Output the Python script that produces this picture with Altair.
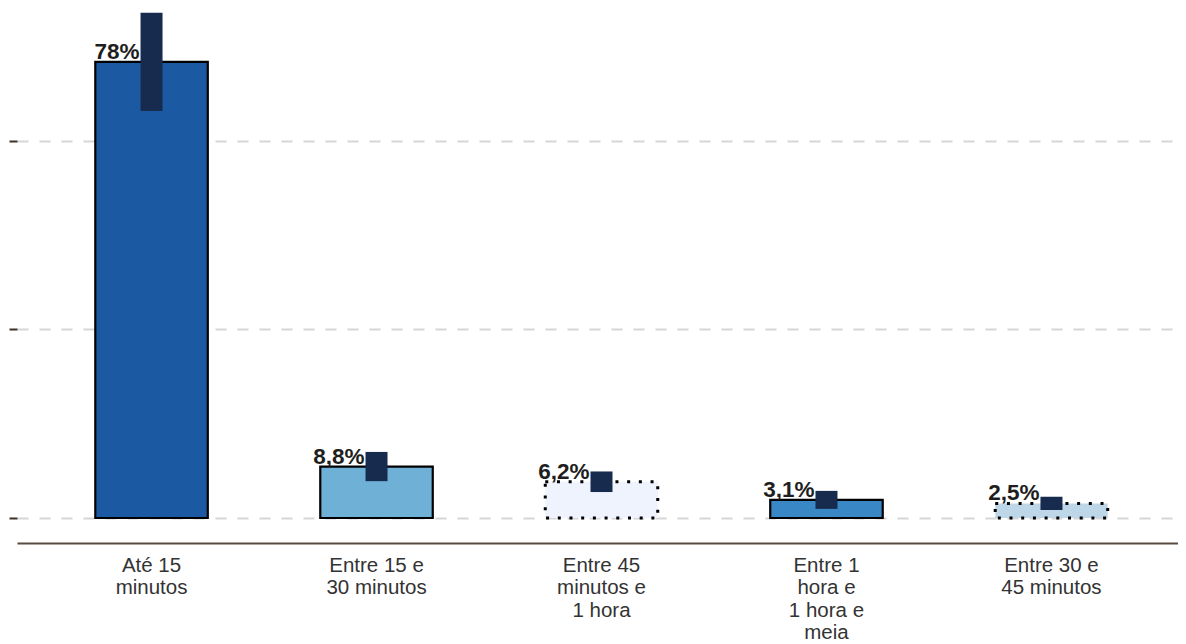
import altair as alt
import pandas as pd

categories = ["Até 15|minutos", "Entre 15 e|30 minutos", "Entre 45|minutos e|1 hora",
              "Entre 1|hora e|1 hora e|meia", "Entre 30 e|45 minutos"]
values = [78, 8.8, 6.2, 3.1, 2.5]
errors = [8.4, 2.5, 1.76, 1.54, 1.15]
value_labels = ["78%", "8,8%", "6,2%", "3,1%", "2,5%"]
fills = ["#1b5aa2", "#6fb0d6", "#eef3fd", "#3a87c5", "#bdd7e8"]
borders = ["solid", "solid", "dotted", "solid", "dotted"]
grid_values = [0, 32.25, 64.5]

df = pd.DataFrame({
    "cat": categories,
    "value": values,
    "lo": [v - e for v, e in zip(values, errors)],
    "hi": [v + e for v, e in zip(values, errors)],
    "label": value_labels,
    "border": borders,
})

x = alt.X("cat:N", sort=categories, title=None,
          scale=alt.Scale(range=[0, 1169], paddingInner=0.5, paddingOuter=0.348),
          axis=alt.Axis(labelExpr="split(datum.label, '|')", labelAngle=0,
                        labelFontSize=20.5, labelLineHeight=22.5, labelColor="#333333",
                        labelFont="Liberation Sans", labelPadding=12,
                        ticks=False, domainColor="#5a4b40", domainWidth=2,
                        offset=25, grid=False))

yscale = alt.Scale(domain=[0, 86.2], nice=False, zero=True)

bars = alt.Chart(df).mark_bar(stroke="black").encode(
    x=x,
    y=alt.Y("value:Q", scale=yscale, title=None,
            axis=alt.Axis(values=grid_values, labels=False, domain=False,
                          tickSize=8, tickWidth=2, tickColor="#3d3128",
                          gridColor="#d6d6d6", gridWidth=2, gridDash=[11, 11])),
    color=alt.Color("cat:N", scale=alt.Scale(domain=categories, range=fills), legend=None),
    strokeDash=alt.StrokeDash("border:N",
                              scale=alt.Scale(domain=["solid", "dotted"], range=[[1, 0], [3, 8.7]]),
                              legend=None),
    strokeWidth=alt.StrokeWidth("border:N",
                                scale=alt.Scale(domain=["solid", "dotted"], range=[2.2, 3]),
                                legend=None),
)

errs = alt.Chart(df).mark_bar(size=22, color="#172b4e").encode(
    x=x,
    y=alt.Y("lo:Q", scale=yscale),
    y2="hi:Q",
)

texts = alt.Chart(df).mark_text(align="right", baseline="alphabetic", dx=-12, dy=-3,
                                fontSize=22.5, fontWeight="bold", font="Liberation Sans",
                                color="#1e1e1e").encode(
    x=x,
    y=alt.Y("value:Q", scale=yscale),
    text="label:N",
)

chart = alt.layer(bars, errs, texts).properties(
    width=1161, height=504,
    autosize=alt.AutoSizeParams(type="none"),
    padding={"left": 9, "top": 6, "right": 0, "bottom": 145},
).configure_view(stroke=None)

chart.save("out.html", embed_options={"renderer": "svg", "actions": False})
